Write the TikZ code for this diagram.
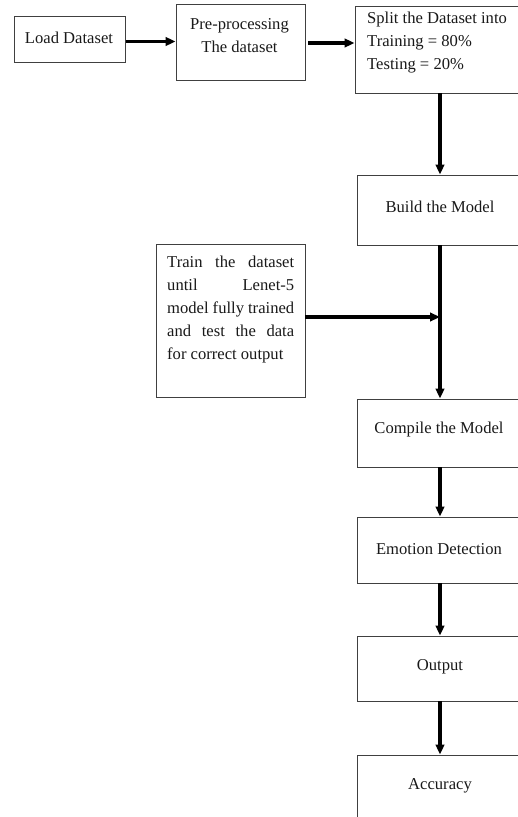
\documentclass[tikz,border=0pt]{standalone}
\usepackage{fontspec}
\setmainfont{Liberation Serif}
\usetikzlibrary{arrows.meta}
\tikzset{
  box/.style={draw=black!75, line width=0.9pt, rectangle, inner sep=0pt},
  txt/.style={font=\fontsize{16.6}{23}\selectfont, inner sep=0pt, text=black!90},
  arr/.style={line width=3.2pt, -{Triangle[length=10pt,width=8.5pt]}},
}
\begin{document}
\begin{tikzpicture}[x=1pt,y=-1pt]
\useasboundingbox (0,0) rectangle (518,817);
\clip (0,0) rectangle (518,817);
% boxes
\node[box, minimum width=111pt, minimum height=46pt] (load) at (70,39) {};
\node[box, minimum width=129pt, minimum height=76pt] (pre) at (240.5,42) {};
\node[box, minimum width=170pt, minimum height=87pt] (split) at (440,49.5) {};
\node[box, minimum width=166pt, minimum height=70pt] (build) at (440,210) {};
\node[box, minimum width=149pt, minimum height=153pt] (train) at (230.5,320.5) {};
\node[box, minimum width=166pt, minimum height=68pt] (compile) at (440,433) {};
\node[box, minimum width=166pt, minimum height=66pt] (emo) at (440,550) {};
\node[box, minimum width=166pt, minimum height=65pt] (out) at (440,668.5) {};
\node[box, minimum width=166pt, minimum height=90pt] (acc) at (440,800) {};
% texts
\node[txt] (loadt) at (69,37.5) {Load Dataset};
\node[txt, align=center] (pret) at (239.5,36) {Pre-processing\\The dataset};
\node[txt, align=left, anchor=west] (splitt) at (367,43) {Split the Dataset into\\Training = 80\%\\Testing = 20\%};
\node[txt] (buildt) at (440,207) {Build the Model};
\node[txt, align=left, anchor=north west] (traint) at (167,256) {%
\makebox[127pt][s]{Train the dataset}\\
\makebox[127pt][s]{until Lenet-5}\\
\makebox[127pt][s]{model fully trained}\\
\makebox[127pt][s]{and test the data}\\
for correct output};
\node[txt] (compilet) at (439,430) {Compile the Model};
\node[txt] (emot) at (439,549) {Emotion Detection};
\node[txt] (outt) at (440,667) {Output};
\node[txt] (acct) at (440,786) {Accuracy};
% connectors
\coordinate (j) at (440,317);
\draw[arr] (load.east |- 0,41.5) -- (pre.west |- 0,41.5);
\draw[arr] ([xshift=3pt]pre.east |- 0,43) -- (split.west |- 0,43);
\draw[arr] (split.south) -- (build.north);
\draw[arr] (build.south) -- (compile.north);
\draw[arr] (train.east |- j) -- (j);
\draw[arr] (compile.south) -- (emo.north);
\draw[arr] (emo.south) -- (out.north);
\draw[arr] (out.south) -- (acc.north);
\end{tikzpicture}
\end{document}
